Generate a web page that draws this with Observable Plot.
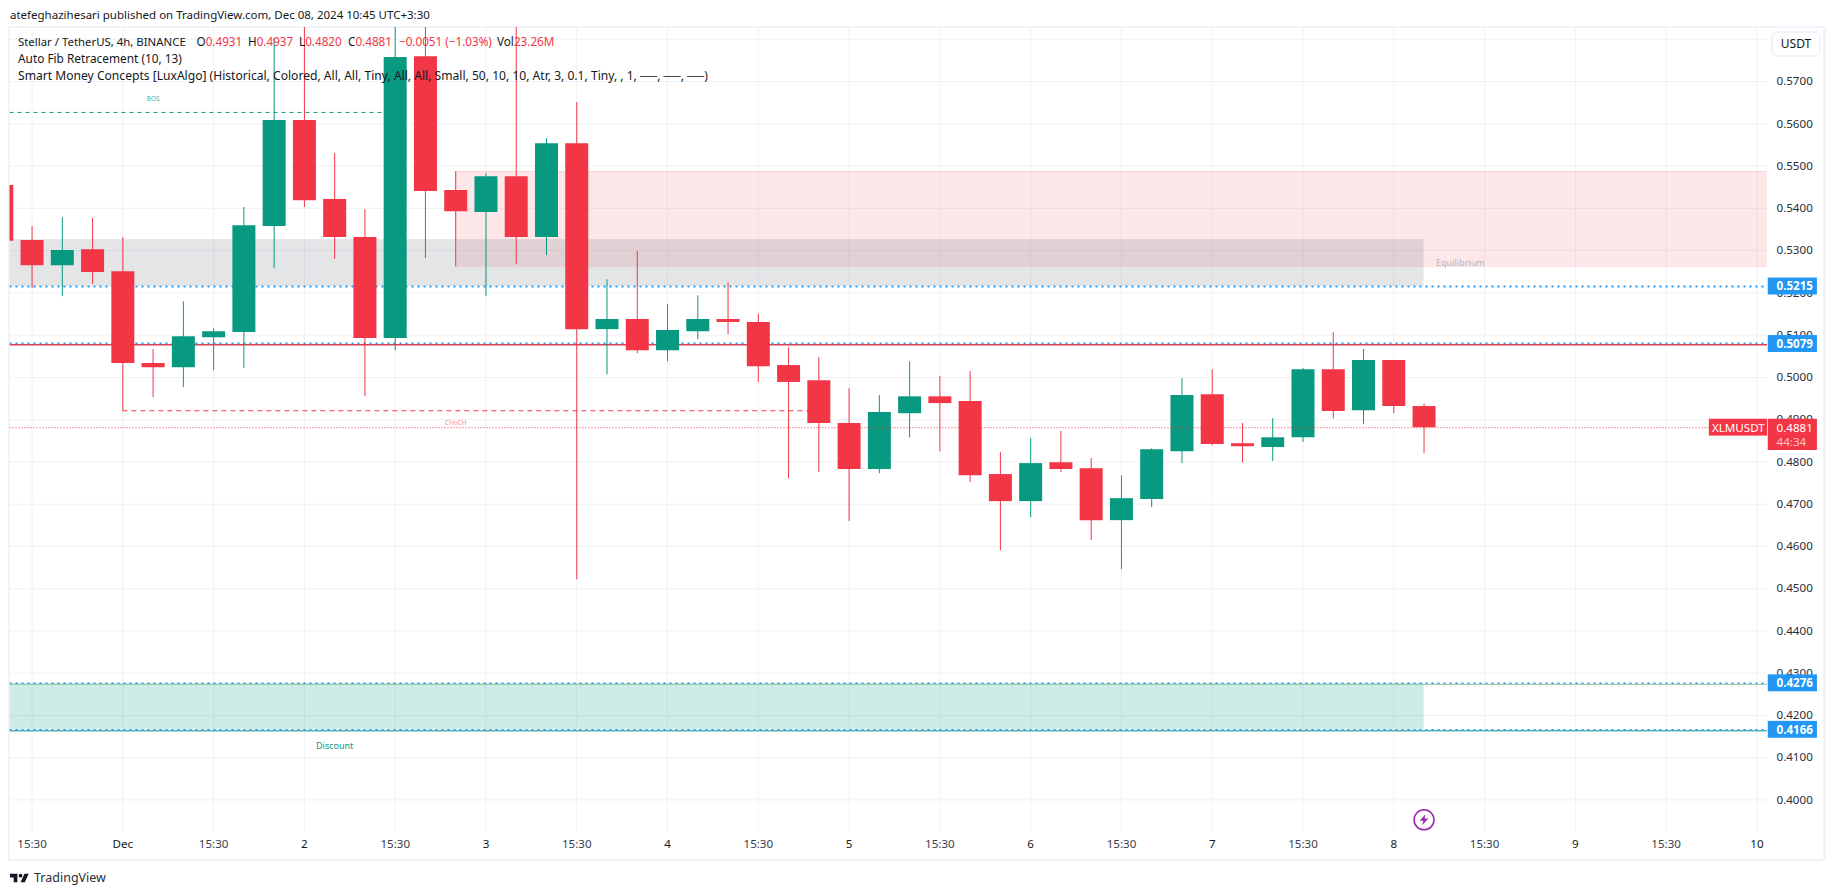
<!DOCTYPE html>
<html>
<head>
<meta charset="utf-8">
<script src="https://cdn.jsdelivr.net/npm/d3@7"></script>
<script src="https://cdn.jsdelivr.net/npm/@observablehq/plot@0.6"></script>
<style>
html,body{margin:0;padding:0;background:#fff;width:1835px;height:895px;overflow:hidden;font-family:"Noto Sans",sans-serif;color:#131722}
#wrap{position:relative;width:1835px;height:895px}
#head{position:absolute;left:10px;top:6px;font-size:11.5px;line-height:18px;white-space:nowrap}
#panel{position:absolute;left:8px;top:26px;width:1818px;height:835px;box-sizing:border-box;border:2px solid #f0f3fa;border-right-width:3px}
#chart{position:absolute;left:0;top:27px}
#legend{position:absolute;left:18px;top:33px;font-size:11.7px;line-height:17px;white-space:nowrap}
#legend .r{color:#f23645}
#legend span{position:absolute;top:0}
#legend div{height:17px;position:relative}
#usdt{position:absolute;left:1771px;top:31px;width:50px;height:26px;box-sizing:border-box;border:2px solid #f0f3fa;border-radius:6px;font-size:12px;line-height:22px;text-align:center}
#foot{position:absolute;left:10px;top:868px;display:flex;align-items:center;gap:5px;font-size:12.5px;line-height:20px;color:#2a2e39}
</style>
</head>
<body>
<div id="wrap">
  <div id="head">atefeghazihesari published on TradingView.com, Dec 08, 2024 10:45 UTC+3:30</div>
  <div id="panel"></div>
  <div id="chart"></div>
  <div id="legend">
    <div><span style="left:0;font-size:11.4px">Stellar / TetherUS, 4h, BINANCE</span>
      <span style="left:178.5px">O<b class="r" style="font-weight:400">0.4931</b></span>
      <span style="left:230px">H<b class="r" style="font-weight:400">0.4937</b></span>
      <span style="left:281px">L<b class="r" style="font-weight:400">0.4820</b></span>
      <span style="left:330px">C<b class="r" style="font-weight:400">0.4881</b></span>
      <span style="left:381px" class="r">−0.0051 (−1.03%)</span>
      <span style="left:479px">Vol<b class="r" style="font-weight:400">23.26M</b></span></div>
    <div style="font-size:11.85px">Auto Fib Retracement (10, 13)</div>
    <div style="font-size:12.1px">Smart Money Concepts [LuxAlgo] (Historical, Colored, All, All, Tiny, All, All, Small, 50, 10, 10, Atr, 3, 0.1, Tiny, , 1, ──, ──, ──)</div>
  </div>
  <div id="usdt">USDT</div>
  <div id="foot"><svg width="19" height="10" viewBox="0 6 36 16"><path fill="#131722" d="M14 6H0v7h7v9h7V6ZM28 22h-8l7.5-16h8L28 22Z"/><circle fill="#131722" cx="20" cy="9.5" r="3.5"/></svg><span>TradingView</span></div>
</div>
<script>
const barTimes = [
  "11-30T08","11-30T12","11-30T16","11-30T20",
  "12-01T00","12-01T04","12-01T08","12-01T12","12-01T16","12-01T20",
  "12-02T00","12-02T04","12-02T08","12-02T12","12-02T16","12-02T20",
  "12-03T00","12-03T04","12-03T08","12-03T12","12-03T16","12-03T20",
  "12-04T00","12-04T04","12-04T08","12-04T12","12-04T16","12-04T20",
  "12-05T00","12-05T04","12-05T08","12-05T12","12-05T16","12-05T20",
  "12-06T00","12-06T04","12-06T08","12-06T12","12-06T16","12-06T20",
  "12-07T00","12-07T04","12-07T08","12-07T12","12-07T16","12-07T20",
  "12-08T00","12-08T04"
];
const opens = [.5454,.5324,.5264,.5302,.5250,.5033,.5023,.5094,.5106,.5357,.5608,.5421,.5331,.5092,.5759,.5442,.5390,.5475,.5331,.5553,.5113,.5137,.5063,.5108,.5137,.5130,.5028,.4992,.4891,.4782,.4914,.4954,.4943,.4770,.4706,.4798,.4784,.4661,.4711,.4824,.4959,.4843,.4834,.4857,.5018,.4921,.5040,.4931];
const highs = [.5454,.5357,.5378,.5376,.5331,.5066,.5179,.5115,.5402,.5802,.5900,.5530,.5397,.5900,.5900,.5487,.5482,.5900,.5565,.5650,.5231,.5298,.5172,.5193,.5224,.5149,.5070,.5047,.4973,.4957,.5037,.5002,.5014,.4822,.4855,.4872,.4808,.4767,.4831,.4997,.5018,.4891,.4902,.5021,.5106,.5066,.5040,.4937];
const lows = [.5322,.5210,.5191,.5220,.4921,.4952,.4976,.5016,.5021,.5257,.5402,.5279,.4954,.5063,.5281,.5262,.5191,.5267,.5288,.4521,.5006,.5056,.5037,.5089,.5101,.4988,.4760,.4775,.4659,.4772,.4857,.4824,.4751,.4590,.4668,.4775,.4614,.4545,.4692,.4796,.4838,.4798,.4801,.4846,.4902,.4888,.4914,.4820];
const closes = [.5322,.5264,.5300,.5248,.5033,.5023,.5096,.5108,.5359,.5608,.5418,.5331,.5092,.5757,.5440,.5392,.5475,.5331,.5553,.5113,.5137,.5063,.5111,.5137,.5130,.5025,.4988,.4891,.4782,.4917,.4954,.4938,.4767,.4706,.4796,.4782,.4661,.4713,.4829,.4957,.4841,.4836,.4857,.5018,.4919,.5040,.4931,.4881];

const tickTimes = ["11-30T12","12-01T00","12-01T12","12-02T00","12-02T12","12-03T00","12-03T12","12-04T00","12-04T12","12-05T00","12-05T12","12-06T00","12-06T12","12-07T00","12-07T12","12-08T00","12-08T12","12-09T00","12-09T12","12-10T00"];
const tickLabels = ["15:30","Dec","15:30","2","15:30","3","15:30","4","15:30","5","15:30","6","15:30","7","15:30","8","15:30","9","15:30","10"];
const yTickValues = [.40,.41,.42,.43,.44,.45,.46,.47,.48,.49,.50,.51,.52,.53,.54,.55,.56,.57];
const gridValues = [...yTickValues,.58];

const fibLevels = [.5215,.5080,.4276,.4166];
const fibWidths = [2,2,1.5,1.5];
const fibLabels = [{p:.5215,t:"0.5215"},{p:.5079,t:"0.5079"},{p:.4276,t:"0.4276"},{p:.4166,t:"0.4166"}];
const lastPrice = .4881;

const T = s => new Date(`2024-${s}:00Z`);
const xDomain = [new Date("2024-11-30T09:05:00Z"), new Date("2024-12-10T01:24:00Z")];
const yDomain = [.3923,.5828];
const GREEN="#089981", RED="#f23645", BLUE="#2196f3", DARK="#131722";

const candles = barTimes.map((s,i)=>({t:T(s),o:opens[i],h:highs[i],l:lows[i],c:closes[i],col:closes[i]>=opens[i]?GREEN:RED}));
const zoneEnd = T("12-08T04");
const zones = [
  {x1:T("12-02T20"),x2:xDomain[1],y1:.5262,y2:.5487,fill:RED,op:.12},
  {x1:xDomain[0],x2:zoneEnd,y1:.5215,y2:.5326,fill:"#787b86",op:.2},
  {x1:xDomain[0],x2:zoneEnd,y1:.4166,y2:.4276,fill:GREEN,op:.2}
];
const labelX1 = new Date("2024-12-10T01:30:00Z"), labelX2 = new Date("2024-12-10T08:00:00Z"), labelTextX = new Date("2024-12-10T02:36:00Z");
const isDay = (_, i) => i % 2 === 1;
const bolt = {draw(c,s){const k=Math.sqrt(s)/8;[[1,-4.5],[-3.5,.8],[-.6,.8],[-1.4,4.5],[3.5,-1],[.5,-1],[1,-4.5]].forEach(([a,b],i)=>i?c.lineTo(a*k,b*k):c.moveTo(a*k,b*k));c.closePath();}};

const plot = Plot.plot({
  width:1835,height:835,
  marginLeft:9.5,marginRight:68,marginTop:0,marginBottom:30,
  style:{fontFamily:'"Noto Sans",sans-serif',fontSize:"11.6px",background:"transparent",color:DARK},
  x:{type:"utc",domain:xDomain},
  y:{type:"linear",domain:yDomain},
  marks:[
    Plot.ruleX(tickTimes.map(T),{stroke:"#f0f1f5"}),
    Plot.ruleY(gridValues,{stroke:"#f0f1f5"}),
    Plot.axisY({ticks:yTickValues,anchor:"right",tickSize:0,tickPadding:9,tickFormat:d3.format(".4f"),label:null,color:"#2a2e39"}),
    Plot.axisX({ticks:tickTimes.filter((_,i)=>!isDay(_,i)).map(T),anchor:"bottom",tickSize:0,tickPadding:7,tickFormat:()=> "15:30",label:null,color:"#3a3e4a"}),
    Plot.axisX({ticks:tickTimes.filter(isDay).map(T),anchor:"bottom",tickSize:0,tickPadding:7,
      tickFormat:d=>tickLabels[tickTimes.findIndex(s=>+T(s)===+d)],label:null,color:DARK}),
    Plot.rect(zones,{x1:"x1",x2:"x2",y1:"y1",y2:"y2",fill:"fill",fillOpacity:"op",clip:true}),
    Plot.ruleY([.5262,.5487],{x1:T("12-02T20"),x2:xDomain[1],stroke:RED,strokeOpacity:.12,clip:true}),
    Plot.ruleY([.4276],{x1:xDomain[0],x2:xDomain[1],stroke:"#8cc7a0",strokeWidth:1,dy:1,clip:true}),
    Plot.ruleY([.4166],{x1:xDomain[0],x2:xDomain[1],stroke:"#0b8f8a",strokeWidth:1,dy:1,clip:true}),
    Plot.ruleY([.5077],{x1:xDomain[0],x2:xDomain[1],stroke:RED,strokeWidth:1.5,clip:true}),
    Plot.ruleY(fibLevels,{x1:xDomain[0],x2:xDomain[1],stroke:BLUE,strokeWidth:(d,i)=>fibWidths[i],strokeDasharray:"2,4",clip:true}),
    Plot.ruleY([.5627],{x1:xDomain[0],x2:T("12-02T12"),stroke:GREEN,strokeWidth:1,strokeDasharray:"4,4",clip:true}),
    Plot.ruleY([.4921],{x1:T("12-01T00"),x2:T("12-04T20"),stroke:RED,strokeWidth:1,strokeDasharray:"5,4",clip:true}),
    Plot.text([{t:T("12-01T04"),p:.5660}],{x:"t",y:"p",text:()=>"BOS",fontSize:6.5,fill:GREEN,fillOpacity:.8}),
    Plot.text([{t:T("12-02T20"),p:.4893}],{x:"t",y:"p",text:()=>"CHoCH",fontSize:6.5,fill:RED,fillOpacity:.6}),
    Plot.text([{t:new Date("2024-12-08T08:48:00Z"),p:.5270}],{x:"t",y:"p",text:()=>"Equilibrium",fontSize:9,fill:"#9a9da8",fillOpacity:.75}),
    Plot.text([{t:T("12-02T04"),p:.4128}],{x:"t",y:"p",text:()=>"Discount",fontSize:9,fill:GREEN}),
    Plot.ruleX(candles,{x:"t",y1:"l",y2:"h",stroke:"col",strokeWidth:1,clip:true}),
    Plot.ruleX(candles,{x:"t",y1:"o",y2:"c",stroke:"col",strokeWidth:23,clip:true}),
    Plot.ruleY([lastPrice],{x1:xDomain[0],x2:xDomain[1],stroke:RED,strokeWidth:1,strokeDasharray:"1,2",clip:true}),
    Plot.dot([{t:T("12-08T04"),p:.3953}],{x:"t",y:"p",r:10,stroke:"#9c27b0",strokeWidth:1.5,fill:"#fff"}),
    Plot.dot([{t:T("12-08T04"),p:.3953}],{x:"t",y:"p",r:5.5,symbol:bolt,fill:"#9c27b0",stroke:"none"}),
    Plot.rect(fibLabels,{x1:labelX1,x2:labelX2,y1:d=>d.p-.002,y2:d=>d.p+.002,fill:BLUE}),
    Plot.text(fibLabels,{x:labelTextX,y:"p",text:"t",textAnchor:"start",fill:"#fff",fontWeight:700,fontSize:11.6}),
    Plot.rect([{a:new Date("2024-12-09T17:43:00Z"),b:xDomain[1]}],{x1:"a",x2:"b",y1:.4861,y2:.4901,fill:RED}),
    Plot.rect([{a:labelX1,b:labelX2}],{x1:"a",x2:"b",y1:.4827,y2:.4901,fill:RED}),
    Plot.text([{t:new Date("2024-12-09T21:33:00Z"),p:.4880}],{x:"t",y:"p",text:()=>"XLMUSDT",fill:"#fff",fontSize:11.6}),
    Plot.text([{p:.4880,s:"0.4881",f:"#fff",w:700},{p:.4846,s:"44:34",f:"#fbc4c9",w:400}],{x:labelTextX,y:"p",text:"s",textAnchor:"start",fill:"f",fontWeight:"w",fontSize:11.6})
  ]
});
document.getElementById("chart").appendChild(plot);
</script>
</body>
</html>
